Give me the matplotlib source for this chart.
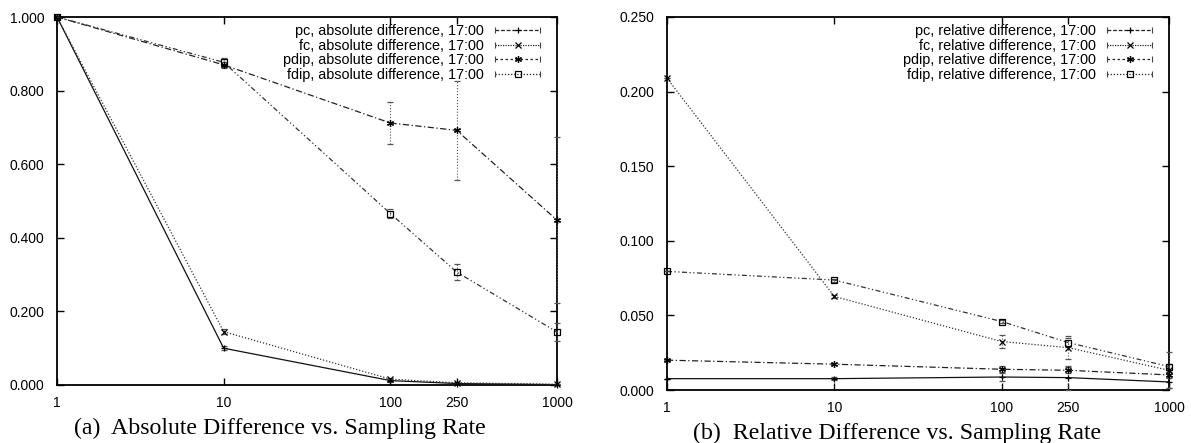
import matplotlib
matplotlib.use("Agg")
import matplotlib.pyplot as plt
from matplotlib.lines import Line2D
from matplotlib.legend_handler import HandlerLine2D, HandlerTuple

plt.rcParams['font.family'] = ['Liberation Sans', 'DejaVu Sans']

# sampling rates on the x axis
rates = [1, 10, 100, 250, 1000]
rate_labels = ['1', '10', '100', '250', '1000']

# absolute difference (mean and half-width of error bar)
abs_pc = [1.0, 0.100, 0.012, 0.004, 0.001]
abs_fc = [1.0, 0.145, 0.016, 0.006, 0.002]
abs_pdip = [1.0, 0.870, 0.712, 0.692, 0.448]
abs_fdip = [1.0, 0.877, 0.466, 0.307, 0.144]
abs_pc_err = [0.0, 0.005, 0.003, 0.002, 0.001]
abs_fc_err = [0.0, 0.006, 0.004, 0.002, 0.001]
abs_pdip_err = [0.0, 0.008, 0.058, 0.134, 0.225]
abs_fdip_err = [0.0, 0.012, 0.012, 0.022, 0.025]

# relative difference
rel_pc = [0.0076, 0.0076, 0.0087, 0.0083, 0.0054]
rel_fc = [0.209, 0.0627, 0.0325, 0.0284, 0.0132]
rel_pdip = [0.020, 0.0173, 0.0139, 0.0132, 0.0101]
rel_fdip = [0.0795, 0.0737, 0.0459, 0.0318, 0.0157]
rel_pc_err = [0.0, 0.001, 0.003, 0.008, 0.004]
rel_fc_err = [0.0, 0.001, 0.0045, 0.0075, 0.012]
rel_pdip_err = [0.0, 0.0005, 0.002, 0.002, 0.002]
rel_fdip_err = [0.0, 0.001, 0.001, 0.003, 0.002]

names = ['pc', 'fc', 'pdip', 'fdip']
markers = ['+', 'x', (6, 2, 0), 's']
line_styles = ['-', (0, (1, 1.5)), (0, (5, 2, 1, 2)), (0, (4, 2, 1, 2, 1, 2))]
leg_styles = [(0, (3, 1.5)), (0, (1, 1)), (0, (2, 2)), (0, (1, 1.5))]
line_colors = ['#111111', '#333333', '#222222', '#333333']


def draw_panel(ax, series, errs, kind, ymax, ystep):
    for i, (ys, es) in enumerate(zip(series, errs)):
        eb = ax.errorbar(rates, ys, yerr=es, color=line_colors[i],
                         linestyle=line_styles[i], linewidth=0.9,
                         marker=markers[i], markersize=5, mfc='none',
                         mec='black', mew=0.9, ecolor='#555555',
                         elinewidth=0.8, capsize=2, capthick=0.8,
                         clip_on=False, zorder=3)
        eb[2][0].set_linestyle(':')
    ax.set_xscale('log')
    ax.set_xlim(1, 1000)
    ax.set_ylim(0, ymax)
    ax.set_xticks(rates)
    ax.set_xticklabels(rate_labels)
    ax.minorticks_off()
    yt = [round(k * ystep, 3) for k in range(int(round(ymax / ystep)) + 1)]
    ax.set_yticks(yt)
    ax.set_yticklabels(['%.3f' % v for v in yt])
    ax.tick_params(direction='in', length=5, width=1, top=True, right=True,
                   labelsize=10)
    ax.tick_params(axis='y', pad=9)
    ax.tick_params(axis='x', pad=8)
    for s in ax.spines.values():
        s.set_linewidth(1.3)

    # legend samples: styled line with centre marker plus end caps
    handles = []
    hmap = {}
    for i, n in enumerate(names):
        body = Line2D([], [], color='#222222', linestyle=leg_styles[i],
                      linewidth=0.9, marker=markers[i], markersize=5,
                      mfc='none', mec='black', mew=0.9)
        caps = Line2D([], [], color='#444444', linestyle='none', marker='|',
                      markersize=5, mew=0.8)
        hmap[caps] = HandlerLine2D(numpoints=2, marker_pad=0)
        handles.append((body, caps))
    hmap[tuple] = HandlerTuple(ndivide=1, pad=0)
    labels = ['%s, %s difference, 17:00' % (n, kind) for n in names]
    ax.legend(handles, labels, handler_map=hmap, loc='upper right',
              bbox_to_anchor=(0.966, 0.981), frameon=False, markerfirst=False,
              fontsize=10.4, handlelength=3.1, handletextpad=0.8,
              labelspacing=0.04, borderaxespad=0, borderpad=0)


fig = plt.figure(figsize=(11.91, 4.43), dpi=100)
ax1 = fig.add_axes([57 / 1191, 58 / 443, 500 / 1191, 368 / 443])
ax2 = fig.add_axes([667 / 1191, 53 / 443, 502 / 1191, 373 / 443])

draw_panel(ax1, [abs_pc, abs_fc, abs_pdip, abs_fdip],
           [abs_pc_err, abs_fc_err, abs_pdip_err, abs_fdip_err],
           'absolute', 1.0, 0.2)
draw_panel(ax2, [rel_pc, rel_fc, rel_pdip, rel_fdip],
           [rel_pc_err, rel_fc_err, rel_pdip_err, rel_fdip_err],
           'relative', 0.25, 0.05)

fig.text(280 / 1191, 1 - 428 / 443, '(a)  Absolute Difference vs. Sampling Rate',
         ha='center', va='center', fontsize=17.2, family='Liberation Serif')
fig.text(897 / 1191, 1 - 433 / 443, '(b)  Relative Difference vs. Sampling Rate',
         ha='center', va='center', fontsize=17.2, family='Liberation Serif')

fig.savefig('out.png', dpi=100)
